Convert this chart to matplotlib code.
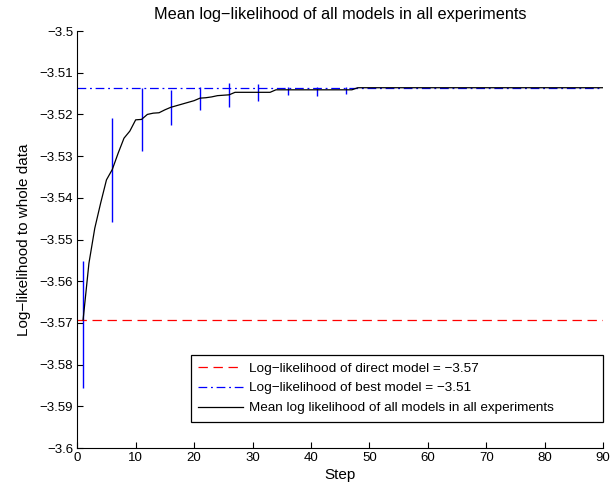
import matplotlib
matplotlib.use("Agg")
import matplotlib.pyplot as plt

# data
steps = list(range(1, 91))
mean_ll = [
    -3.5693, -3.5557, -3.5473, -3.5413, -3.5357, -3.5332, -3.5293, -3.5257, -3.5240, -3.5213,
    -3.5212, -3.5200, -3.5197, -3.5196, -3.5189, -3.5183, -3.5179, -3.5175, -3.5171, -3.5167,
    -3.5161, -3.5160, -3.5158, -3.5155, -3.5154, -3.5153, -3.5147, -3.5147, -3.5147, -3.5147,
    -3.5147, -3.5147, -3.5147, -3.5141, -3.5141, -3.5141, -3.5141, -3.5141, -3.5141, -3.5141,
    -3.5141, -3.5141, -3.5141, -3.5141, -3.5141, -3.5141, -3.5141, -3.5136, -3.5136, -3.5136,
    -3.5136, -3.5136, -3.5136, -3.5136, -3.5136, -3.5136, -3.5136, -3.5136, -3.5136, -3.5136,
    -3.5136, -3.5136, -3.5136, -3.5136, -3.5136, -3.5136, -3.5136, -3.5136, -3.5136, -3.5136,
    -3.5136, -3.5136, -3.5136, -3.5136, -3.5136, -3.5136, -3.5136, -3.5136, -3.5136, -3.5136,
    -3.5136, -3.5136, -3.5136, -3.5136, -3.5136, -3.5136, -3.5136, -3.5136, -3.5136, -3.5136,
]
err_steps = [1, 6, 11, 16, 21, 26, 31, 36, 41, 46]
err_top = [-3.5552, -3.5209, -3.5137, -3.5141, -3.5134, -3.5125, -3.5128, -3.5134, -3.5134, -3.5134]
err_bottom = [-3.5855, -3.5459, -3.5288, -3.5225, -3.5189, -3.5182, -3.5168, -3.5154, -3.5156, -3.5150]
direct_ll = -3.5693
best_ll = -3.5136

plt.rcParams["font.family"] = ["Liberation Sans", "DejaVu Sans"]

fig = plt.figure(figsize=(6.13, 4.90), dpi=100)
ax = fig.add_axes([0.126, 0.0857, 0.858, 0.851])

ax.vlines(err_steps, err_bottom, err_top, colors="#0000ff", linewidth=1.0)
ax.axhline(direct_ll, color="#ff0000", linestyle=(0, (7.5, 4.5)), linewidth=0.9,
           label="Log\u2212likelihood of direct model = \u22123.57")
ax.axhline(best_ll, color="#0000ff", linestyle=(0, (7, 3, 1.5, 3)), linewidth=0.9,
           label="Log\u2212likelihood of best model = \u22123.51")
ax.plot(steps, mean_ll, color="black", linewidth=0.9,
        label="Mean log likelihood of all models in all experiments")

ax.set_xlim(0, 90)
ax.set_ylim(-3.6, -3.5)
ax.set_xticks(range(0, 91, 10))
yticks = [-3.5 - 0.01 * i for i in range(11)]
ax.set_yticks(yticks)
ax.set_yticklabels(["\u22123.5"] + ["\u22123.5%d" % i for i in range(1, 10)] + ["\u22123.6"])
ax.tick_params(direction="in", length=4, width=0.8, labelsize=9.5, pad=3)
for side in ("top", "right"):
    ax.spines[side].set_visible(False)
for side in ("left", "bottom"):
    ax.spines[side].set_linewidth(0.8)

ax.set_title("Mean log\u2212likelihood of all models in all experiments", fontsize=11.7, pad=9)
ax.set_xlabel("Step", fontsize=11, labelpad=3)
ax.set_ylabel("Log\u2212likelihood to whole data", fontsize=11, labelpad=6)

# MATLAB-style legend box, wider than its text
leg = ax.legend(loc="lower left", bbox_to_anchor=(0.2156, 0.063, 0.784, 0.16),
                mode="expand", borderaxespad=0, fontsize=9.7,
                fancybox=False, framealpha=1, edgecolor="black", handlelength=3.35,
                borderpad=0.55, labelspacing=0.55, handletextpad=0.42)
leg.get_frame().set_linewidth(0.9)

fig.savefig("out.png", dpi=100)
